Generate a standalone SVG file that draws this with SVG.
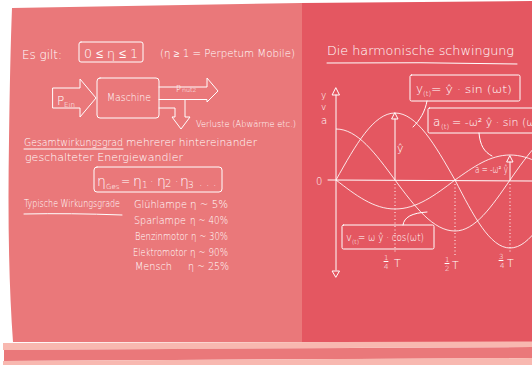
<svg xmlns="http://www.w3.org/2000/svg" width="532" height="365" viewBox="0 0 532 365">
<style>
.t{font-family:"DejaVu Sans","Liberation Sans",Arial,sans-serif;font-weight:200;fill:#fff}
.ln{fill:none;stroke:#fff;stroke-width:1;stroke-linejoin:round;stroke-linecap:round}
.dot{fill:none;stroke:#fff;stroke-width:1;stroke-dasharray:1 2.5}
.cv{fill:none;stroke:#fff;stroke-width:0.9;opacity:0.95}
</style>
<rect width="532" height="365" fill="#fff"/>
<!-- panels -->
<path d="M12,8 L302,3 L302,342 L13,342 Q7,260 9,140 Q10,60 12,8 Z" fill="#EA787A"/>
<path d="M302,3 L532,1 L532,342 L302,342 Z" fill="#E45761"/>
<path d="M3,343 L532,341.5 L532,347 L3,350 Z" fill="#F8B8B0"/>
<path d="M4,350 L532,347 L532,358 L4,361 Z" fill="#EA787A"/>
<path d="M3,361 L532,358 L532,365 L3,365 Z" fill="#F8B8B0"/>

<!-- LEFT PANEL -->
<g id="es-gilt">
<text class="t" x="22" y="59" font-size="13" textLength="40" lengthAdjust="spacingAndGlyphs">Es gilt:</text>
<rect class="ln" x="79" y="42" width="64" height="20" rx="2"/>
<text class="t" x="84" y="58" font-size="13" textLength="54" lengthAdjust="spacingAndGlyphs">0 ≤ η ≤ 1</text>
<text class="t" x="160" y="57" font-size="10" textLength="135" lengthAdjust="spacingAndGlyphs">(η ≥ 1 = Perpetum Mobile)</text>
</g>

<g id="p-ein">
<path class="ln" d="M53,88 L80,88 L80,79 L96,98 L80,117 L80,108 L53,108 Z"/>
<text class="t" x="57" y="105" font-size="12">P</text>
<text class="t" x="64" y="107" font-size="7" textLength="11" lengthAdjust="spacingAndGlyphs">Ein</text>
</g>

<g id="maschine">
<rect class="ln" x="97" y="78" width="62" height="40" rx="3"/>
<text class="t" x="107" y="101" font-size="10.5" textLength="44" lengthAdjust="spacingAndGlyphs">Maschine</text>
</g>

<g id="connectors-left">
<path class="ln" d="M159,87 H207 V78 L218,91 L207,102 V99.5 H159"/>
<path class="ln" d="M185,99.5 V117 H190 L181,129 L172,117 H175 V108 H159"/>
</g>

<g id="p-nutz">
<text class="t" x="176" y="92" font-size="8">P</text>
<text class="t" x="182" y="92" font-size="6" textLength="14" lengthAdjust="spacingAndGlyphs">nutz</text>
</g>

<g id="verluste">
<text class="t" x="196" y="127" font-size="9" textLength="100" lengthAdjust="spacingAndGlyphs">Verluste (Abwärme etc.)</text>
</g>

<g id="gesamt">
<text class="t" x="24" y="146" font-size="10" textLength="99" lengthAdjust="spacingAndGlyphs">Gesamtwirkungsgrad</text>
<path class="ln" d="M24,149 L123,149"/>
<text class="t" x="126" y="146" font-size="10" textLength="131" lengthAdjust="spacingAndGlyphs">mehrerer hintereinander</text>
<text class="t" x="25" y="161" font-size="10" textLength="158" lengthAdjust="spacingAndGlyphs">geschalteter Energiewandler</text>
</g>

<g id="eta-ges">
<rect class="ln" x="94" y="167" width="128" height="25" rx="3"/>
<text class="t" font-size="14" y="186"><tspan x="97">η</tspan><tspan x="106" y="189" font-size="7">Ges</tspan><tspan x="121" y="185" font-size="11">=</tspan><tspan x="133" y="186">η</tspan><tspan x="142" y="188" font-size="9">1</tspan><tspan x="150" y="185" font-size="11">·</tspan><tspan x="157" y="186">η</tspan><tspan x="165" y="187" font-size="10">2</tspan><tspan x="175" y="185" font-size="11">·</tspan><tspan x="180" y="186">η</tspan><tspan x="188" y="188" font-size="9">3</tspan><tspan x="199" y="186" font-size="11">. . .</tspan></text>
</g>

<g id="typische">
<text class="t" x="24" y="207" font-size="10" textLength="96" lengthAdjust="spacingAndGlyphs">Typische Wirkungsgrade</text>
<path class="ln" d="M24,214 Q70,213 122,215"/>
<text class="t" x="134" y="208" font-size="10" textLength="53" lengthAdjust="spacingAndGlyphs">Glühlampe</text>
<text class="t" x="190" y="208" font-size="10" textLength="38" lengthAdjust="spacingAndGlyphs">η ~ 5%</text>
<text class="t" x="134" y="224" font-size="10" textLength="52" lengthAdjust="spacingAndGlyphs">Sparlampe</text>
<text class="t" x="190" y="224" font-size="10" textLength="38" lengthAdjust="spacingAndGlyphs">η ~ 40%</text>
<text class="t" x="135" y="240" font-size="10" textLength="53" lengthAdjust="spacingAndGlyphs">Benzinmotor</text>
<text class="t" x="191" y="240" font-size="10" textLength="37" lengthAdjust="spacingAndGlyphs">η ~ 30%</text>
<text class="t" x="133" y="256" font-size="10" textLength="54" lengthAdjust="spacingAndGlyphs">Elektromotor</text>
<text class="t" x="190" y="256" font-size="10" textLength="38" lengthAdjust="spacingAndGlyphs">η ~ 90%</text>
<text class="t" x="135" y="269.5" font-size="10" textLength="37" lengthAdjust="spacingAndGlyphs">Mensch</text>
<text class="t" x="188" y="269.5" font-size="10" textLength="41" lengthAdjust="spacingAndGlyphs">η ~ 25%</text>
</g>

<!-- RIGHT PANEL -->
<g id="title-right">
<text class="t" x="327" y="55" font-size="13" textLength="187" lengthAdjust="spacingAndGlyphs">Die harmonische schwingung</text>
<path class="ln" d="M327,63 Q420,62 517,64"/>
</g>

<g id="axes">
<path class="ln" d="M336,95 V270"/>
<path class="ln" d="M336,88 L339.5,95 L332.5,95 Z"/>
<path class="ln" d="M332.5,271 L339.5,271 L336,277 Z"/>
<path class="ln" d="M328,180 L532,181"/>
<text class="t" x="321" y="98" font-size="9">y</text>
<text class="t" x="321" y="110" font-size="9">v</text>
<text class="t" x="321" y="124" font-size="10">a</text>
<text class="t" x="316" y="185" font-size="10">0</text>
</g>

<g id="curves">
<path class="cv" d="M336,180 C355.7,144.8 373.6,113 395,113 C416.7,113 435,144.8 455,180 C473.4,215.7 490.1,248 510,248 C530.3,248 547.3,215.7 566,180"/>
<path class="cv" d="M336,129 C357.4,129 375.3,153.2 395,180 C415,206.8 433.3,231 455,231 C474.9,231 491.6,206.8 510,180 C528.7,153.2 545.7,129 566,129"/>
<path class="cv" d="M336,180 C355.7,195.2 373.6,209 395,209 C416.7,209 435,195.2 455,180 C473.4,166.9 490.1,155 510,155 C530.3,155 547.3,166.9 566,180"/>
</g>

<g id="markers">
<path class="ln" d="M395,180 V119"/>
<path class="ln" d="M395,113 L398,119 L392,119 Z"/>
<text class="t" x="397" y="152" font-size="11">ŷ</text>
<path class="dot" d="M395,184 V254"/>
<path class="dot" d="M455,184 V256"/>
<path class="ln" d="M510,180 V162"/>
<path class="ln" d="M510,156 L513,162 L507,162 Z"/>
<path class="dot" d="M510,184 V254"/>
<text class="t" x="475" y="173" font-size="10" textLength="33" lengthAdjust="spacingAndGlyphs">a = -ω² ŷ</text>
<text class="t" font-size="7"><tspan x="384" y="260">1</tspan><tspan x="384" y="269">4</tspan></text>
<path class="ln" d="M384,261.5 H388"/>
<text class="t" x="394" y="267" font-size="11">T</text>
<text class="t" font-size="7"><tspan x="445" y="262">1</tspan><tspan x="445" y="271">2</tspan></text>
<path class="ln" d="M445,263.5 H449"/>
<text class="t" x="452" y="269" font-size="11">T</text>
<text class="t" font-size="7"><tspan x="499" y="259">3</tspan><tspan x="500" y="268">4</tspan></text>
<path class="ln" d="M499,260.5 H503"/>
<text class="t" x="507" y="267" font-size="11">T</text>
</g>

<g id="box-y">
<rect class="ln" x="410" y="75" width="110" height="26" rx="1.5" fill="#E45761"/>
<text class="t" x="416" y="93" font-size="12">y</text>
<text class="t" x="423" y="96" font-size="7">(t)</text>
<text class="t" x="431" y="93" font-size="11" textLength="81" lengthAdjust="spacingAndGlyphs">= ŷ · sin (ωt)</text>
</g>

<g id="box-a">
<rect class="ln" x="428" y="108" width="120" height="25" rx="1.5" fill="#E45761"/>
<text class="t" x="433" y="126" font-size="12">a</text>
<text class="t" x="441" y="129" font-size="7">(t)</text>
<text class="t" x="452" y="126" font-size="11" textLength="92" lengthAdjust="spacingAndGlyphs">= -ω² ŷ · sin (ωt)</text>
</g>

<g id="box-v">
<rect class="ln" x="342" y="225" width="92" height="24" rx="1.5" fill="#E45761"/>
<text class="t" x="346" y="241" font-size="10">v</text>
<text class="t" x="352" y="244" font-size="6">(t)</text>
<text class="t" x="358" y="241" font-size="10" textLength="66" lengthAdjust="spacingAndGlyphs">= ω ŷ · cos(ωt)</text>
</g>

<g id="connectors-right">
<path class="ln" d="M427,101 C425,112 420,120 413,127"/>
<path class="ln" d="M479,133 C480,145 484,152 492,156"/>
<path class="ln" d="M403,225 C404,217 412,213 427,212"/>
</g>
</svg>
